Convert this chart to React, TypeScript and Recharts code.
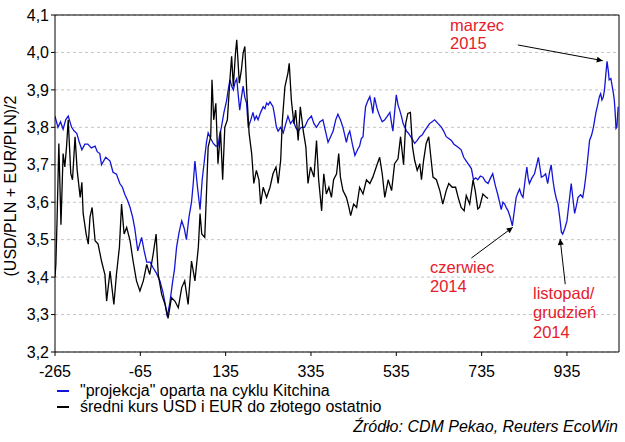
import React from 'react';
import { LineChart, Line, XAxis, YAxis, CartesianGrid, ReferenceLine, Legend } from 'recharts';

const FONT = '"Liberation Sans", Arial, sans-serif';
const RED = '#e5202b';

const X_TICKS = [-265, -65, 135, 335, 535, 735, 935];
const Y_TICKS = [3.2, 3.3, 3.4, 3.5, 3.6, 3.7, 3.8, 3.9, 4.0, 4.1];

// "projekcja" oparta na cyklu Kitchina
const projX = [
  -265, -258, -252, -246, -240, -234, -226, -220, -214, -208, -202, -195, -188, -180, -171, -166, -160, -156,
  -146, -136, -129, -121, -113, -107, -101, -95, -89, -83, -78, -71, -66, -62, -56, -50, -42, -35, -27, -19,
  -12, -7, -2, 4, 11, 15, 20, 26, 32, 38, 43, 49, 55, 59, 63, 69, 75, 80, 86, 90, 94, 100, 106, 112, 117, 121,
  125, 131, 137, 141, 145, 149, 153, 157, 161, 165, 168, 172, 176, 180, 184, 188, 194, 199, 203, 207, 211, 217,
  223, 227, 231, 235, 239, 246, 250, 254, 258, 264, 270, 276, 281, 287, 293, 299, 305, 312, 320, 328, 336, 342,
  348, 356, 363, 369, 375, 381, 387, 393, 398, 404, 410, 414, 418, 422, 426, 432, 438, 444, 449, 453, 457, 460,
  463, 468, 473, 477, 480, 484, 490, 496, 502, 508, 514, 520, 524, 527, 531, 535, 539, 543, 547, 551, 555, 559,
  563, 566, 572, 578, 584, 590, 596, 601, 607, 613, 619, 625, 633, 641, 646, 652, 658, 664, 670, 676, 682, 687,
  693, 699, 705, 711, 716, 721, 726, 732, 738, 744, 750, 756, 761, 767, 773, 777, 781, 785, 789, 793, 797, 802,
  807, 812, 816, 820, 824, 828, 832, 837, 841, 844, 847, 853, 859, 864, 868, 872, 875, 880, 885, 888, 890, 894,
  898, 902, 906, 910, 914, 918, 922, 925, 930, 935, 940, 945, 949, 953, 957, 961, 967, 972, 976, 980, 984, 988,
  993, 997, 1000, 1003, 1007, 1011, 1014, 1017, 1020, 1023, 1026, 1029, 1032, 1034, 1038, 1041, 1044, 1046, 1048,
  1050, 1052, 1055,
];
const projY = [
  3.83, 3.8, 3.815, 3.795, 3.82, 3.83, 3.8, 3.79, 3.784, 3.76, 3.74, 3.755, 3.755, 3.745, 3.75, 3.735, 3.73, 3.7,
  3.72, 3.71, 3.68, 3.675, 3.65, 3.64, 3.62, 3.605, 3.586, 3.56, 3.53, 3.47, 3.49, 3.506, 3.47, 3.44, 3.44, 3.425,
  3.41, 3.39, 3.36, 3.33, 3.295, 3.33, 3.39, 3.42, 3.48, 3.52, 3.55, 3.53, 3.5, 3.56, 3.6, 3.65, 3.71, 3.64, 3.58,
  3.66, 3.72, 3.76, 3.785, 3.77, 3.757, 3.75, 3.75, 3.78, 3.8, 3.84, 3.87, 3.9, 3.927, 3.91, 3.9, 3.92, 3.93, 3.88,
  3.846, 3.88, 3.91, 3.88, 3.865, 3.8, 3.82, 3.84, 3.82, 3.83, 3.82, 3.84, 3.855, 3.85, 3.865, 3.86, 3.868, 3.855,
  3.83, 3.8, 3.79, 3.8, 3.785, 3.81, 3.83, 3.81, 3.82, 3.8, 3.79, 3.8, 3.8, 3.82, 3.83, 3.81, 3.8, 3.815, 3.82,
  3.79, 3.76, 3.775, 3.79, 3.82, 3.835, 3.82, 3.8, 3.78, 3.76, 3.78, 3.79, 3.755, 3.725, 3.74, 3.75, 3.77, 3.775,
  3.82, 3.855, 3.87, 3.882, 3.86, 3.837, 3.88, 3.85, 3.83, 3.815, 3.82, 3.83, 3.84, 3.81, 3.79, 3.84, 3.887, 3.86,
  3.846, 3.83, 3.81, 3.8, 3.79, 3.785, 3.78, 3.77, 3.757, 3.765, 3.775, 3.78, 3.79, 3.8, 3.81, 3.815, 3.82, 3.81,
  3.8, 3.79, 3.775, 3.77, 3.765, 3.755, 3.75, 3.745, 3.74, 3.72, 3.71, 3.7, 3.69, 3.66, 3.665, 3.66, 3.67, 3.667,
  3.655, 3.65, 3.665, 3.676, 3.645, 3.62, 3.6, 3.58, 3.6, 3.595, 3.585, 3.577, 3.56, 3.537, 3.58, 3.613, 3.625,
  3.635, 3.62, 3.613, 3.66, 3.694, 3.665, 3.65, 3.665, 3.676, 3.7, 3.72, 3.69, 3.667, 3.67, 3.676, 3.66, 3.65,
  3.68, 3.7, 3.66, 3.63, 3.61, 3.595, 3.56, 3.52, 3.515, 3.53, 3.55, 3.6, 3.65, 3.61, 3.57, 3.59, 3.613, 3.62,
  3.613, 3.64, 3.676, 3.72, 3.765, 3.78, 3.8, 3.82, 3.84, 3.86, 3.882, 3.89, 3.873, 3.88, 3.9, 3.94, 3.976, 3.95,
  3.927, 3.93, 3.91, 3.89, 3.873, 3.84, 3.797, 3.8, 3.855,
];

// średni kurs USD i EUR do złotego ostatnio
const rateX = [
  -265, -263, -260, -256, -251, -246, -242, -238, -234, -228, -224, -218, -213, -206, -202, -199, -192, -187,
  -183, -178, -171, -164, -156, -148, -144, -136, -127, -121, -114, -109, -103, -97, -89, -82, -74, -66, -58,
  -50, -43, -35, -28, -23, -15, -7, 0, 8, 16, 24, 32, 39, 47, 55, 63, 71, 75, 79, 86, 90, 94, 100, 103, 107, 112,
  117, 123, 128, 133, 139, 145, 149, 153, 158, 161, 167, 172, 176, 180, 185, 190, 196, 201, 207, 213, 217, 223,
  231, 239, 246, 253, 258, 264, 268, 274, 281, 284, 289, 295, 299, 305, 310, 317, 323, 328, 334, 342, 348, 353,
  360, 365, 371, 377, 383, 388, 395, 400, 404, 410, 418, 424, 428, 435, 442, 449, 457, 465, 473, 480, 488, 496,
  502, 508, 516, 524, 531, 539, 545, 552, 557, 562, 568, 573, 578, 584, 590, 594, 599, 605, 611, 616, 621, 629,
  637, 644, 652, 658, 666, 674, 680, 687, 694, 699, 707, 715, 720, 726, 730, 738, 746, 750,
];
const rateY = [
  3.4, 3.434, 3.56, 3.757, 3.54, 3.73, 3.694, 3.747, 3.82, 3.676, 3.66, 3.775, 3.685, 3.613, 3.653, 3.57, 3.515,
  3.488, 3.56, 3.586, 3.497, 3.488, 3.443, 3.407, 3.336, 3.416, 3.327, 3.407, 3.48, 3.595, 3.515, 3.533, 3.497,
  3.443, 3.39, 3.363, 3.39, 3.434, 3.407, 3.461, 3.515, 3.407, 3.354, 3.327, 3.29, 3.345, 3.336, 3.318, 3.372,
  3.39, 3.327, 3.443, 3.39, 3.48, 3.57, 3.515, 3.506, 3.622, 3.748, 3.775, 3.927, 3.82, 3.864, 3.703, 3.79, 3.66,
  3.8, 3.82, 3.927, 3.99, 3.909, 3.998, 4.034, 3.918, 3.954, 3.998, 4.016, 3.882, 3.784, 3.73, 3.65, 3.685, 3.66,
  3.595, 3.64, 3.613, 3.64, 3.676, 3.694, 3.65, 3.712, 3.82, 3.909, 3.945, 3.971, 3.873, 3.81, 3.846, 3.765,
  3.855, 3.79, 3.748, 3.65, 3.694, 3.667, 3.765, 3.66, 3.577, 3.676, 3.622, 3.64, 3.613, 3.66, 3.676, 3.73,
  3.667, 3.631, 3.613, 3.586, 3.564, 3.595, 3.586, 3.64, 3.622, 3.66, 3.65, 3.667, 3.694, 3.72, 3.676, 3.613,
  3.66, 3.631, 3.703, 3.716, 3.775, 3.7, 3.81, 3.837, 3.84, 3.748, 3.712, 3.685, 3.703, 3.66, 3.712, 3.757,
  3.775, 3.72, 3.667, 3.66, 3.631, 3.595, 3.631, 3.65, 3.64, 3.64, 3.613, 3.586, 3.577, 3.618, 3.595, 3.66,
  3.631, 3.582, 3.586, 3.622, 3.613, 3.61,
];

const projData = projX.map((x, i) => ({ x, y: projY[i] }));
const rateData = rateX.map((x, i) => ({ x, y: rateY[i] }));

const fmtY = (v: number) => v.toFixed(1).replace('.', ',');

const LegendBox = ({ payload }: any) => (
  <div style={{ fontFamily: FONT, fontSize: 16, lineHeight: '15.7px', color: '#000' }}>
    {(payload || []).map((p: any) => (
      <div key={p.value} style={{ display: 'flex', alignItems: 'center', whiteSpace: 'nowrap' }}>
        <span style={{ display: 'inline-block', width: 12, height: 2, background: p.color, marginLeft: 2, marginRight: 11 }} />
        {p.value}
      </div>
    ))}
  </div>
);

export default function App() {
  return (
    <div style={{ position: 'absolute', left: 0, top: 0, width: 625, height: 442, background: '#fff' }}>
      <LineChart width={625} height={442} data={projData} margin={{ top: 15, right: 6, left: 0, bottom: 65 }}>
        <defs>
          <marker id="arrowHead" viewBox="0 0 10 10" refX="10" refY="5" markerWidth="9" markerHeight="6" orient="auto" markerUnits="userSpaceOnUse">
            <path d="M0,0 L10,5 L0,10 z" fill="#000" />
          </marker>
        </defs>
        <CartesianGrid vertical={false} stroke="#c4c4c4" strokeDasharray="3 3" />
        <XAxis
          dataKey="x"
          type="number"
          domain={[-265, 1057]}
          ticks={X_TICKS}
          allowDataOverflow
          height={25}
          tickSize={4}
          tickMargin={10}
          stroke="#000"
          tick={{ fill: '#000', fontSize: 16, fontFamily: FONT }}
        />
        <YAxis
          type="number"
          domain={[3.2, 4.1]}
          ticks={Y_TICKS}
          allowDataOverflow
          width={55}
          tickSize={4}
          tickMargin={2}
          tickFormatter={fmtY}
          stroke="#000"
          tick={{ fill: '#000', fontSize: 16, fontFamily: FONT }}
        />
        <ReferenceLine y={4.1} stroke="#000" />
        <ReferenceLine x={1057} stroke="#000" />
        <Line
          data={projData}
          dataKey="y"
          name={'"projekcja" oparta na cyklu Kitchina'}
          type="linear"
          stroke="#1414d8"
          strokeWidth={1.3}
          dot={false}
          isAnimationActive={false}
        />
        <Line
          data={rateData}
          dataKey="y"
          name="średni kurs USD i EUR do złotego ostatnio"
          type="linear"
          stroke="#000"
          strokeWidth={1.3}
          dot={false}
          isAnimationActive={false}
        />
        <ReferenceLine segment={[{ x: 820, y: 4.02 }, { x: 1019, y: 3.978 }]} stroke="#000" markerEnd="url(#arrowHead)" />
        <ReferenceLine segment={[{ x: 711, y: 3.451 }, { x: 808, y: 3.533 }]} stroke="#000" markerEnd="url(#arrowHead)" />
        <ReferenceLine segment={[{ x: 931, y: 3.381 }, { x: 919, y: 3.502 }]} stroke="#000" markerEnd="url(#arrowHead)" />
        <Legend
          layout="vertical"
          align="center"
          verticalAlign="middle"
          content={<LegendBox />}
          wrapperStyle={{ position: 'absolute', left: 55, top: 383, width: 'auto' }}
        />
        <text x={16} y={186} transform="rotate(-90 16 186)" textAnchor="middle" fontFamily={FONT} fontSize={16} fill="#000">
          (USD/PLN + EUR/PLN)/2
        </text>
        <g fontFamily={FONT} fontSize={16.5} fill={RED}>
          <text x={450} y={31}>marzec</text>
          <text x={450} y={49}>2015</text>
          <text x={430} y={273}>czerwiec</text>
          <text x={430} y={291.5}>2014</text>
          <text x={533} y={299}>listopad/</text>
          <text x={533} y={318}>grudzień</text>
          <text x={533} y={337.5}>2014</text>
        </g>
        <text x={618} y={431.5} textAnchor="end" fontFamily={FONT} fontSize={16} fontStyle="italic" fill="#000">
          Źródło: CDM Pekao, Reuters EcoWin
        </text>
      </LineChart>
    </div>
  );
}
